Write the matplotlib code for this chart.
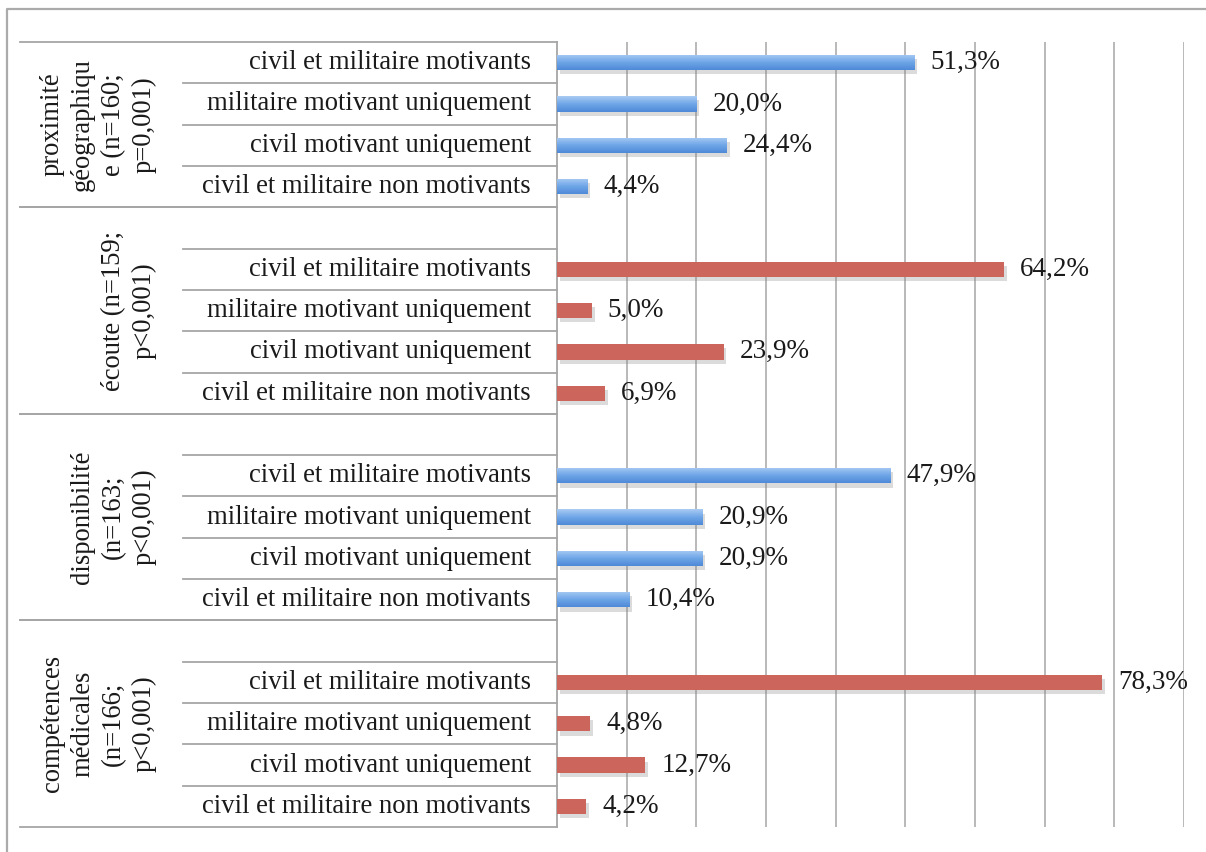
import matplotlib
matplotlib.use('Agg')
import matplotlib.pyplot as plt
import numpy as np
from matplotlib import patheffects as pe
from matplotlib.lines import Line2D
from matplotlib.transforms import blended_transform_factory
from matplotlib.colors import LinearSegmentedColormap

# ---------------- data ----------------
groups = ["proximité\ngéographiqu\ne (n=160;\np=0,001)",
          "écoute (n=159;\np<0,001)",
          "disponibilité\n(n=163;\np<0,001)",
          "compétences\nmédicales\n(n=166;\np<0,001)"]
answers = ["civil et militaire motivants",
           "militaire motivant uniquement",
           "civil motivant uniquement",
           "civil et militaire non motivants"]
proximite = [51.3, 20.0, 24.4, 4.4]
ecoute = [64.2, 5.0, 23.9, 6.9]
disponibilite = [47.9, 20.9, 20.9, 10.4]
competences = [78.3, 4.8, 12.7, 4.2]
series = [proximite, ecoute, disponibilite, competences]
value_labels = [[f"{v:.1f}%".replace('.', ',') for v in s] for s in series]

# ---------------- style ----------------
W, H, DPI = 1206, 852, 100
BLUE = '#5f98e0'
RED = '#cc665c'
group_styles = ['blue', 'red', 'blue', 'red']
LINE = '#a6a6a6'
FONT = 'Liberation Serif'

fig = plt.figure(figsize=(W / DPI, H / DPI), dpi=DPI)
fig.patch.set_facecolor('white')
x0, x1, y0, y1 = 557, 1184, 42, 827
ax = fig.add_axes([x0 / W, 1 - y1 / H, (x1 - x0) / W, (y1 - y0) / H])

# fit font sizes
fig.canvas.draw()
r = fig.canvas.get_renderer()
t = fig.text(0, 0, answers[0], fontsize=20, family=FONT)
fs_lab = 20 * 283 / t.get_window_extent(r).width
t.remove()
t = fig.text(0, 0, "78,3%", fontsize=20, family=FONT)
fs_val = 20 * 70 / t.get_window_extent(r).width
t.remove()

nrows = 19
ax.set_xlim(0, 90)
ax.set_ylim(nrows - 0.5, -0.5)
ax.set_xticks(np.arange(10, 91, 10))
ax.set_yticks([])
ax.tick_params(axis='x', length=0, labelbottom=False)
ax.grid(axis='x', color='#b3b3b3', lw=1.3)
ax.set_axisbelow(True)
for s in ['top', 'right', 'bottom']:
    ax.spines[s].set_visible(False)
ax.spines['left'].set_color(LINE)
ax.spines['left'].set_linewidth(1.3)

bar_h = 0.37
cmap = LinearSegmentedColormap.from_list('b', ['#a9cbf3', '#6fa6e8', '#4f8ad8'])
grad = np.linspace(0, 1, 50).reshape(-1, 1)
shadow = [pe.SimplePatchShadow(offset=(2, -3), shadow_rgbFace='#888888', alpha=0.3), pe.Normal()]

trans = blended_transform_factory(ax.transAxes, ax.transData)
for g, (vals, labs) in enumerate(zip(series, value_labels)):
    rows = [5 * g + i for i in range(4)]
    color = BLUE if group_styles[g] == 'blue' else RED
    bars = ax.barh(rows, vals, height=bar_h, color=color, zorder=3)
    for b in bars:
        b.set_path_effects(shadow)
    if group_styles[g] == 'blue':
        for b, rr, v in zip(bars, rows, vals):
            im = ax.imshow(grad, cmap=cmap, aspect='auto', origin='upper',
                           extent=(0, v, rr + bar_h / 2, rr - bar_h / 2), zorder=4)
            im.set_clip_path(b)
    for rr, v, lab in zip(rows, vals, labs):
        ax.annotate(lab, (v, rr), xytext=(11.5, 0), textcoords='offset points',
                    ha='left', va='center', fontsize=fs_val, family=FONT,
                    color='#1a1a1a', zorder=5)
        ax.text(-0.0415, rr, answers[rr - 5 * g], transform=trans, ha='right',
                va='center', fontsize=fs_lab, family=FONT, color='#1a1a1a')
    # separators
    top = -0.5 if g == 0 else 5 * g - 1.5
    bot = 5 * g + 3.5
    sub = [5 * g + i - 0.5 for i in range(1, 4)]
    if g > 0:
        sub.append(5 * g - 0.5)
    for yy in sub:
        ax.add_line(Line2D([-0.5965, 0], [yy, yy], transform=trans, color=LINE,
                           lw=1.3, clip_on=False))
    for yy in (top, bot):
        ax.add_line(Line2D([-0.8565, 0], [yy, yy], transform=trans, color=LINE,
                           lw=1.3, clip_on=False))
    ax.text(-0.638, (top + bot) / 2, groups[g], transform=trans, rotation=90,
            ha='right', va='center', multialignment='center',
            fontsize=fs_lab, family=FONT, color='#1a1a1a', linespacing=1.3)

ax.set_xlim(0, 90)
ax.set_ylim(nrows - 0.5, -0.5)

# outer frame
fig.add_artist(Line2D([7 / W, 7 / W, 1.0], [0, 1 - 9 / H, 1 - 9 / H],
                      transform=fig.transFigure, color='#ababab', lw=1.6))

fig.savefig('out.png', dpi=DPI)
